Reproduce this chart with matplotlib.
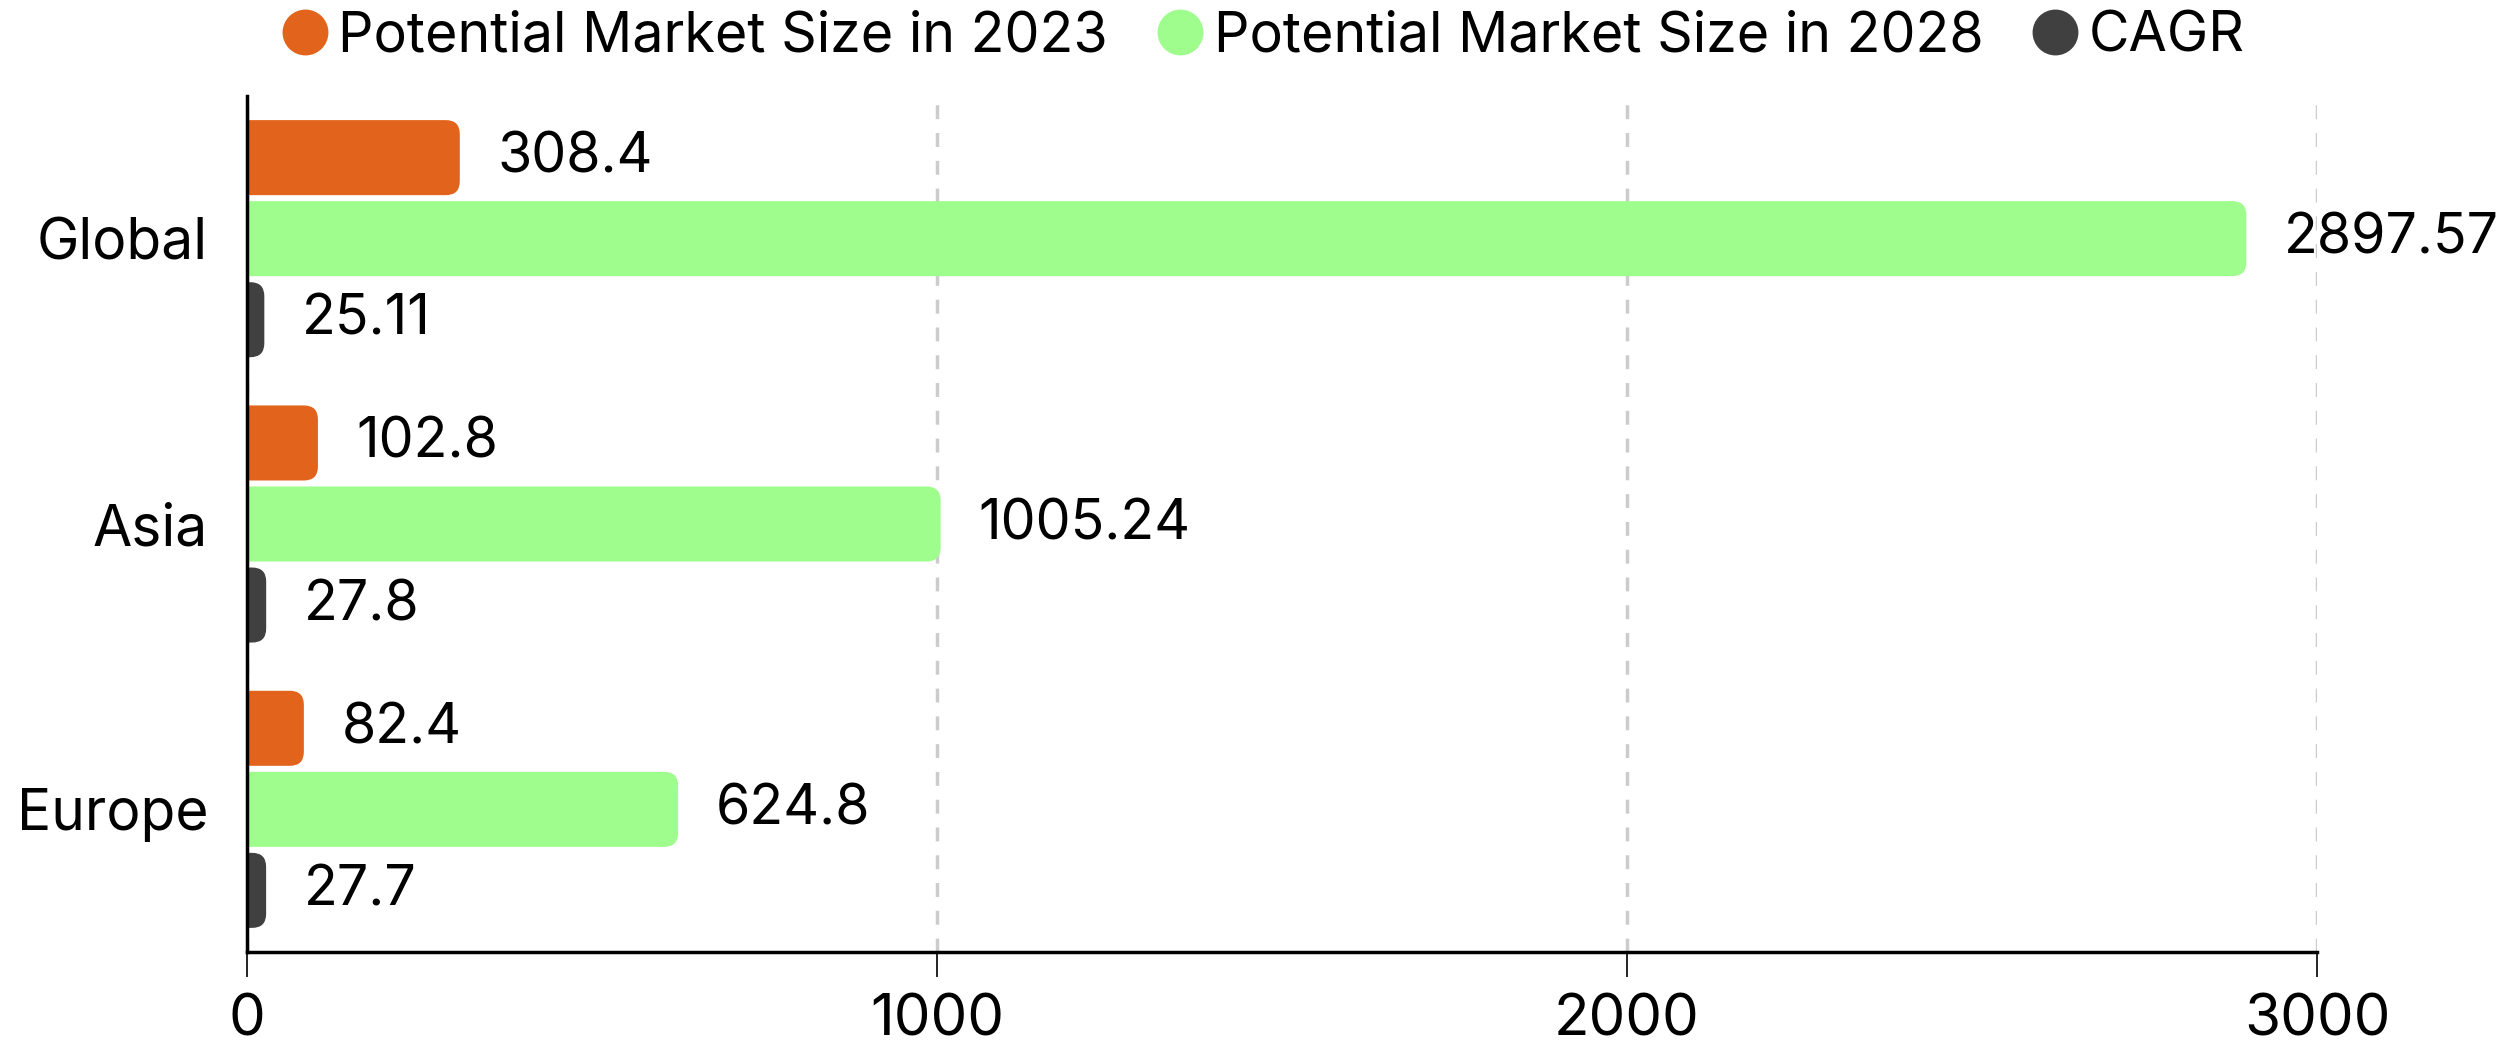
import matplotlib.pyplot as plt
from matplotlib.patches import FancyBboxPatch
from matplotlib.lines import Line2D
import numpy as np

plt.rcParams['font.family'] = ['Inter', 'DejaVu Sans']

regions = ["Global", "Asia", "Europe"]
size_2023 = [308.4, 102.8, 82.4]
size_2028 = [2897.57, 1005.24, 624.8]
cagr = [25.11, 27.8, 27.7]
series_names = ["Potential Market Size in 2023", "Potential Market Size in 2028", "CAGR"]
colors = ["#E2631B", "#9EFD8D", "#404040"]
value_labels = [["308.4", "102.8", "82.4"], ["2897.57", "1005.24", "624.8"], ["25.11", "27.8", "27.7"]]

fig = plt.figure(figsize=(24.97, 10.45), dpi=100)
ax = fig.add_axes([247 / 2497, 1 - 952 / 1045, 2070 / 2497, 856 / 1045])

y = np.arange(len(regions))
offsets = [-0.284, 0.0, 0.284]
bar_h = 0.263
all_series = [size_2023, size_2028, cagr]

ax.set_xlim(0, 3000)
ax.set_ylim(2.5, -0.5)

# data units per pixel, for round corners with equal radius in x and y
xu = 3000 / 2070
yu = 3 / 856
radius_px = 14

for vals, off, col, labs in zip(all_series, offsets, colors, value_labels):
    bars = ax.barh(y + off, vals, height=bar_h, color=col, alpha=0)
    for b, v, lab in zip(bars, vals, labs):
        yb = b.get_y()
        p = FancyBboxPatch((-200, yb), v + 200, bar_h,
                           boxstyle=f"round,pad=0,rounding_size={radius_px * xu}",
                           mutation_aspect=yu / xu, facecolor=col,
                           edgecolor="none", zorder=3)
        ax.add_patch(p)
        ax.annotate(lab, (v, yb + bar_h / 2), xytext=(38, 0),
                    textcoords="offset pixels", va="center", ha="left",
                    fontsize=40, color="black", zorder=4)

ax.set_yticks(y)
ax.set_yticklabels(regions, fontsize=41)
ax.tick_params(axis="y", length=0, pad=28)
ax.set_xticks([0, 1000, 2000, 3000])
ax.set_xticklabels(["0", "1000", "2000", "3000"], fontsize=42)
ax.tick_params(axis="x", length=18, width=1.2, pad=12)

ax.grid(axis="x", linestyle=(0, (4, 4)), color="#cccccc", linewidth=2.5, zorder=0)
ax.set_axisbelow(True)
for s in ["top", "right"]:
    ax.spines[s].set_visible(False)
for s in ["left", "bottom"]:
    ax.spines[s].set_linewidth(2.5)
    ax.spines[s].set_color("black")
    ax.spines[s].set_zorder(5)

handles = [Line2D([], [], marker="o", linestyle="none", markersize=32,
                  markerfacecolor=c, markeredgecolor=c) for c in colors]
fig.legend(handles, series_names, loc="center", bbox_to_anchor=(0.505, 1 - 36 / 1045),
           ncol=3, frameon=False, fontsize=40, handletextpad=0.1, columnspacing=0.8,
           handlelength=1.0)

fig.savefig("out.png", dpi=100)
